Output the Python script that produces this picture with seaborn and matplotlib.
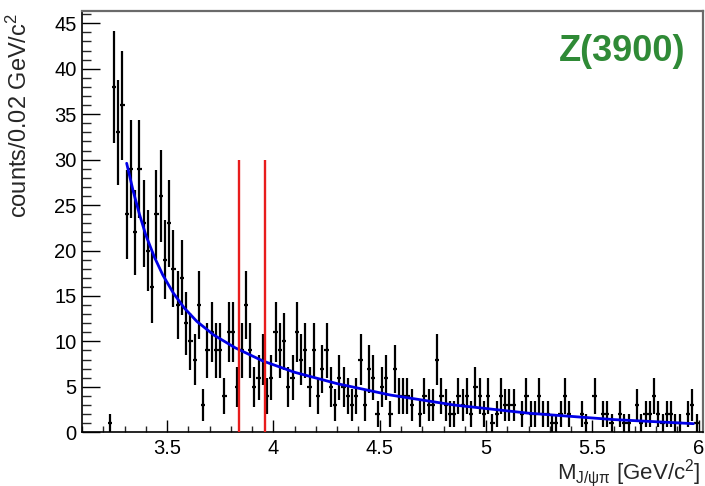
import numpy as np
import matplotlib
matplotlib.use("Agg")
import matplotlib.pyplot as plt
from matplotlib.ticker import MultipleLocator, FuncFormatter
import seaborn as sns

# Histogram of J/psi pi invariant mass, 0.02 GeV bins starting at 3.22 GeV
bin_lo = 3.22
bin_width = 0.02
counts = np.array([
    1, 38, 33, 36, 24, 29, 22, 29, 23, 20,
    16, 24, 26, 19, 23, 18, 14, 17, 12, 10,
    8, 14, 3, 9, 11, 9, 9, 4, 11, 11,
    5, 9, 14, 9, 5, 6, 8, 4, 6, 11,
    9, 10, 5, 6, 11, 8, 9, 5, 9, 4,
    7, 9, 5, 3, 6, 5, 4, 3, 4, 8,
    3, 7, 6, 2, 5, 6, 2, 7, 4, 4,
    4, 3, 0, 2, 4, 3, 3, 8, 4, 3,
    2, 2, 4, 3, 4, 2, 5, 4, 2, 4,
    1, 2, 4, 3, 3, 3, 0, 2, 4, 2,
    2, 4, 2, 2, 1, 1, 2, 4, 2, 0,
    0, 2, 1, 0, 4, 0, 2, 2, 1, 0,
    2, 1, 1, 0, 3, 1, 2, 2, 4, 2,
    1, 2, 2, 1, 1, 0, 2, 3, 1,
])

# Background fit curve (mass, counts)
fit_mass = [3.31, 3.34, 3.37, 3.40, 3.44, 3.48, 3.53, 3.58, 3.64, 3.72,
            3.82, 3.95, 4.10, 4.30, 4.55, 4.85, 5.20, 5.60, 5.975]
fit_val = [29.6, 26.6, 24.0, 21.7, 19.3, 17.3, 15.3, 13.7, 12.2, 10.7,
           9.3, 7.85, 6.6, 5.35, 4.1, 3.0, 2.1, 1.4, 0.95]

# Z(3900) signal window
window_edges = [3.84, 3.96]
window_height = 30

sns.set_theme(style="ticks")
plt.rcParams["font.family"] = ["Liberation Sans", "DejaVu Sans"]
plt.rcParams["mathtext.fontset"] = "custom"
plt.rcParams["mathtext.rm"] = "Liberation Sans"
plt.rcParams["mathtext.it"] = "Liberation Sans:italic"
plt.rcParams["mathtext.bf"] = "Liberation Sans:bold"

W, H = 705, 486
fig = plt.figure(figsize=(W / 100, H / 100), dpi=100)
fig.patch.set_facecolor("white")
ax = fig.add_axes([82 / W, (H - 432.3) / H, 621 / W, 421.3 / H])
ax.set_facecolor("white")

centers = bin_lo + bin_width * (np.arange(len(counts)) + 0.5)
filled = counts > 0
ax.errorbar(centers[filled], counts[filled], yerr=np.sqrt(counts[filled]),
            xerr=bin_width / 2, fmt="none", ecolor="black",
            elinewidth=1.6, capsize=0, zorder=3)

sns.lineplot(x=fit_mass, y=fit_val, ax=ax, color="#0000e6", lw=2.0,
             sort=False, estimator=None, zorder=4)

ax.vlines(window_edges, 0, window_height, colors="#e81c1c", lw=1.7, zorder=5)

ax.set_xlim(3.1, 6.02)
ax.set_ylim(0, 46.35)

ax.xaxis.set_major_locator(MultipleLocator(0.5))
ax.xaxis.set_minor_locator(MultipleLocator(0.1))
ax.yaxis.set_major_locator(MultipleLocator(5))
ax.yaxis.set_minor_locator(MultipleLocator(1))
ax.xaxis.set_major_formatter(FuncFormatter(lambda v, p: f"{v:g}"))
ax.yaxis.set_major_formatter(FuncFormatter(lambda v, p: f"{v:g}"))

ax.tick_params(axis="x", which="major", direction="in", length=9, width=1,
               top=False, labelsize=14.5, pad=5, colors="black")
ax.tick_params(axis="x", which="minor", direction="in", length=4.5, width=1,
               top=False)
ax.tick_params(axis="y", which="major", direction="in", length=13, width=1,
               right=False, labelsize=14.5, pad=4, colors="black")
ax.tick_params(axis="y", which="minor", direction="in", length=6.5, width=1,
               right=False)

for side in ("left", "bottom"):
    ax.spines[side].set_color("black")
    ax.spines[side].set_linewidth(1.2)
for side in ("top", "right"):
    ax.spines[side].set_color("#6a6a6a")
    ax.spines[side].set_linewidth(1.6)

ax.set_ylabel(r"counts/0.02 GeV/c$^{2}$", fontsize=17, loc="top")
ax.yaxis.set_label_coords(-0.0805, 0.995)
ax.set_xlabel(r"M$_{\mathrm{J/\psi\pi}}$ [GeV/c$^{2}$]", fontsize=16, loc="right")
ax.xaxis.set_label_coords(0.996, -0.059)

ax.text(0.870, 0.905, "Z(3900)", transform=ax.transAxes, ha="center",
        va="center", fontsize=26, fontweight="bold", color="#2f8a36")

fig.savefig("out.png", dpi=100)
